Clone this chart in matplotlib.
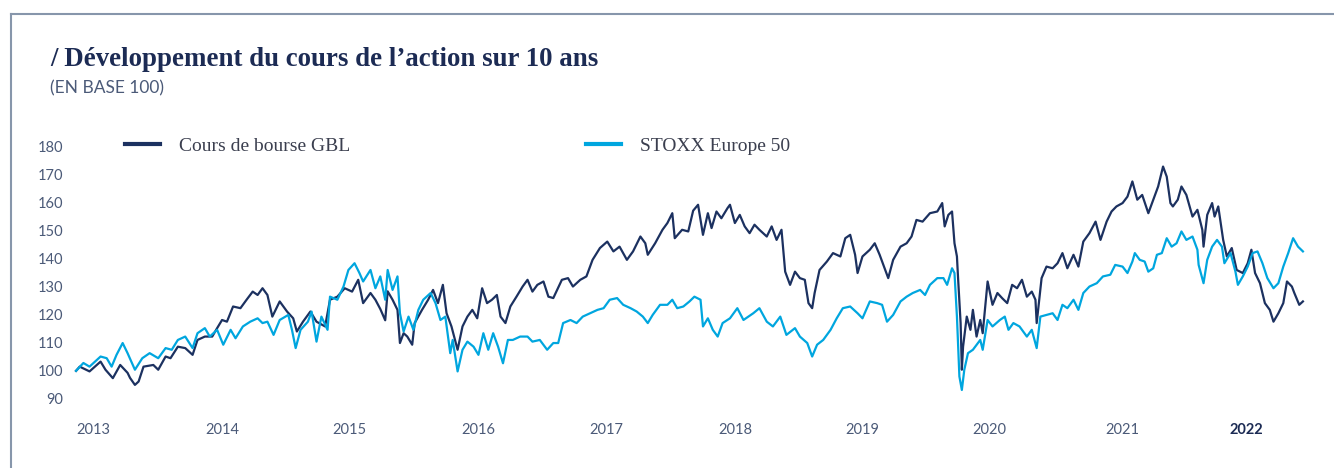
import matplotlib
matplotlib.use("Agg")
import matplotlib.pyplot as plt
from matplotlib.lines import Line2D

# GBL share price, base 100 (decimal years)
gbl_dates = [
    2013.00, 2013.03, 2013.11, 2013.20, 2013.24, 2013.30, 2013.36, 2013.42, 2013.44, 2013.48,
    2013.51, 2013.55, 2013.63, 2013.67, 2013.73, 2013.77, 2013.83, 2013.89, 2013.95, 2013.99,
    2014.05, 2014.11, 2014.15, 2014.19, 2014.23, 2014.28, 2014.34, 2014.39, 2014.44, 2014.48,
    2014.52, 2014.56, 2014.60, 2014.66, 2014.72, 2014.77, 2014.80, 2014.85, 2014.91, 2014.96,
    2015.03, 2015.07, 2015.13, 2015.19, 2015.25, 2015.30, 2015.34, 2015.40, 2015.44, 2015.48,
    2015.52, 2015.54, 2015.58, 2015.62, 2015.64, 2015.67, 2015.70, 2015.74, 2015.76, 2015.82,
    2015.87, 2015.91, 2015.95, 2015.99, 2016.02, 2016.06, 2016.11, 2016.15, 2016.19, 2016.23,
    2016.27, 2016.31, 2016.35, 2016.39, 2016.43, 2016.46, 2016.50, 2016.54, 2016.59, 2016.64,
    2016.68, 2016.72, 2016.76, 2016.81, 2016.85, 2016.89, 2016.96, 2017.01, 2017.05, 2017.11,
    2017.16, 2017.21, 2017.27, 2017.33, 2017.38, 2017.43, 2017.49, 2017.54, 2017.60, 2017.64,
    2017.66, 2017.72, 2017.78, 2017.82, 2017.86, 2017.88, 2017.94, 2017.99, 2018.03, 2018.07,
    2018.11, 2018.15, 2018.18, 2018.22, 2018.26, 2018.31, 2018.33, 2018.37, 2018.41, 2018.45,
    2018.49, 2018.53, 2018.57, 2018.63, 2018.67, 2018.71, 2018.75, 2018.78, 2018.82, 2018.86,
    2018.90, 2018.94, 2018.97, 2019.00, 2019.02, 2019.06, 2019.12, 2019.17, 2019.23, 2019.27,
    2019.31, 2019.35, 2019.37, 2019.41, 2019.47, 2019.51, 2019.55, 2019.59, 2019.62, 2019.66,
    2019.72, 2019.77, 2019.81, 2019.85, 2019.90, 2019.96, 2020.02, 2020.06, 2020.08, 2020.11,
    2020.14, 2020.16, 2020.18, 2020.19, 2020.21, 2020.22, 2020.23, 2020.26, 2020.29, 2020.31,
    2020.34, 2020.37, 2020.39, 2020.43, 2020.47, 2020.51, 2020.55, 2020.59, 2020.63, 2020.67,
    2020.71, 2020.75, 2020.79, 2020.82, 2020.83, 2020.87, 2020.91, 2020.96, 2021.00, 2021.04,
    2021.08, 2021.13, 2021.17, 2021.21, 2021.26, 2021.31, 2021.35, 2021.40, 2021.44, 2021.48,
    2021.53, 2021.57, 2021.61, 2021.65, 2021.69, 2021.74, 2021.78, 2021.82, 2021.86, 2021.89,
    2021.92, 2021.94, 2021.98, 2022.01, 2022.05, 2022.10, 2022.14, 2022.18, 2022.19, 2022.22,
    2022.26, 2022.28, 2022.31, 2022.35, 2022.38, 2022.42, 2022.46, 2022.51, 2022.55, 2022.58,
    2022.61, 2022.65, 2022.69, 2022.73, 2022.76, 2022.80, 2022.84, 2022.87, 2022.91, 2022.93,
    2022.97, 2023.00,
]
gbl = [
    100.0, 101.5, 99.8, 103.3, 100.4, 97.4, 102.1, 99.3, 97.5, 95.0,
    96.2, 101.5, 102.1, 100.4, 105.1, 104.5, 108.6, 108.1, 105.7, 111.0,
    112.2, 112.2, 115.2, 118.1, 117.5, 122.9, 122.3, 125.3, 128.2, 127.0,
    129.4, 127.0, 119.3, 124.7, 121.1, 118.7, 114.0, 117.5, 121.1, 117.5,
    115.8, 125.3, 126.4, 129.4, 128.2, 132.4, 124.1, 127.7, 125.3, 122.0,
    118.0, 128.3, 125.3, 121.7, 109.9, 113.4, 112.2, 109.3, 117.0, 121.7,
    125.3, 128.8, 124.1, 130.6, 120.5, 115.8, 107.5, 115.8, 119.3, 121.7,
    118.7, 129.4, 124.1, 125.3, 127.0, 119.3, 117.0, 122.9, 126.4, 130.0,
    132.4, 128.2, 130.6, 131.8, 126.4, 125.9, 132.4, 133.0, 130.0, 132.4,
    133.6, 139.5, 143.7, 146.0, 142.5, 144.2, 139.5, 142.5, 147.8, 145.4,
    141.3, 145.4, 150.2, 152.6, 156.1, 147.2, 150.2, 149.6, 157.0, 159.1,
    148.4, 156.1, 150.8, 156.7, 154.3, 157.9, 159.1, 152.6, 155.5, 151.4,
    149.0, 152.0, 150.2, 147.8, 151.4, 146.6, 150.2, 135.3, 130.6, 135.3,
    133.0, 132.4, 124.1, 122.3, 127.7, 135.9, 138.9, 141.9, 140.7, 147.2,
    148.4, 141.3, 134.8, 140.7, 143.1, 145.4, 141.3, 136.5, 133.0, 139.5,
    144.2, 145.4, 147.8, 153.7, 153.1, 156.1, 156.7, 159.7, 151.4, 155.5,
    156.7, 145.4, 140.7, 132.4, 117.0, 100.4, 108.6, 119.3, 114.6, 121.7,
    112.2, 118.1, 113.4, 131.8, 123.5, 127.7, 125.8, 124.1, 130.6, 129.4,
    132.4, 126.4, 128.2, 125.3, 117.0, 133.0, 137.1, 136.5, 138.3, 141.9,
    136.5, 141.3, 137.1, 146.0, 149.0, 153.1, 146.6, 153.1, 156.7, 158.5,
    159.7, 162.0, 167.4, 160.9, 162.6, 156.1, 160.9, 165.6, 172.7, 169.1,
    159.7, 158.5, 160.9, 165.6, 162.6, 154.9, 157.3, 150.2, 144.2, 155.5,
    159.7, 154.9, 158.5, 146.6, 140.7, 143.7, 135.9, 134.8, 138.3, 143.1,
    134.8, 131.2, 124.1, 121.7, 117.5, 120.5, 124.1, 131.8, 130.0, 127.7,
    123.5, 124.7,
]

# STOXX Europe 50, base 100
stoxx_dates = [
    2013.00, 2013.06, 2013.11, 2013.20, 2013.25, 2013.29, 2013.33, 2013.38, 2013.42, 2013.48,
    2013.54, 2013.60, 2013.67, 2013.73, 2013.78, 2013.83, 2013.89, 2013.95, 2013.99, 2014.05,
    2014.09, 2014.15, 2014.20, 2014.26, 2014.30, 2014.36, 2014.42, 2014.48, 2014.52, 2014.56,
    2014.61, 2014.66, 2014.73, 2014.76, 2014.79, 2014.83, 2014.89, 2014.92, 2014.96, 2015.00,
    2015.05, 2015.07, 2015.13, 2015.18, 2015.22, 2015.27, 2015.31, 2015.34, 2015.40, 2015.44,
    2015.48, 2015.52, 2015.54, 2015.58, 2015.62, 2015.64, 2015.67, 2015.71, 2015.75, 2015.79,
    2015.83, 2015.89, 2015.93, 2015.97, 2016.01, 2016.05, 2016.07, 2016.11, 2016.15, 2016.19,
    2016.24, 2016.28, 2016.32, 2016.36, 2016.40, 2016.44, 2016.48, 2016.52, 2016.56, 2016.62,
    2016.68, 2016.72, 2016.78, 2016.84, 2016.89, 2016.93, 2016.97, 2017.03, 2017.08, 2017.13,
    2017.19, 2017.25, 2017.30, 2017.35, 2017.41, 2017.46, 2017.52, 2017.57, 2017.62, 2017.66,
    2017.70, 2017.76, 2017.82, 2017.86, 2017.90, 2017.95, 2018.00, 2018.04, 2018.09, 2018.11,
    2018.15, 2018.19, 2018.23, 2018.27, 2018.33, 2018.39, 2018.44, 2018.48, 2018.52, 2018.57,
    2018.63, 2018.68, 2018.74, 2018.79, 2018.86, 2018.90, 2018.96, 2019.00, 2019.04, 2019.09,
    2019.15, 2019.20, 2019.25, 2019.31, 2019.37, 2019.41, 2019.47, 2019.53, 2019.57, 2019.61,
    2019.66, 2019.72, 2019.77, 2019.82, 2019.88, 2019.92, 2019.96, 2020.02, 2020.07, 2020.10,
    2020.14, 2020.16, 2020.18, 2020.20, 2020.22, 2020.24, 2020.27, 2020.31, 2020.37, 2020.39,
    2020.43, 2020.47, 2020.53, 2020.57, 2020.60, 2020.64, 2020.69, 2020.75, 2020.79, 2020.83,
    2020.86, 2020.91, 2020.96, 2021.00, 2021.04, 2021.08, 2021.13, 2021.17, 2021.21, 2021.26,
    2021.32, 2021.37, 2021.43, 2021.47, 2021.53, 2021.57, 2021.61, 2021.63, 2021.67, 2021.71,
    2021.74, 2021.78, 2021.81, 2021.85, 2021.89, 2021.93, 2021.97, 2022.01, 2022.05, 2022.10,
    2022.14, 2022.15, 2022.19, 2022.22, 2022.26, 2022.30, 2022.34, 2022.36, 2022.41, 2022.45,
    2022.47, 2022.51, 2022.55, 2022.59, 2022.63, 2022.67, 2022.71, 2022.76, 2022.80, 2022.84,
    2022.88, 2022.92, 2022.96, 2023.00,
]
stoxx = [
    100.0, 102.8, 101.5, 105.1, 104.5, 101.5, 105.7, 109.9, 106.3, 100.4,
    104.5, 106.3, 104.5, 108.1, 107.5, 111.0, 112.2, 108.1, 113.4, 115.2,
    112.2, 114.6, 109.3, 114.6, 111.6, 115.8, 117.5, 118.7, 117.0, 117.5,
    112.8, 118.1, 119.9, 114.6, 108.1, 114.6, 117.5, 121.1, 110.4, 119.3,
    114.6, 126.4, 125.3, 130.0, 135.9, 138.3, 134.8, 131.8, 135.9, 129.4,
    133.6, 125.3, 135.9, 128.8, 133.6, 120.5, 114.0, 119.3, 114.6, 121.7,
    125.3, 127.7, 124.1, 118.1, 119.3, 106.3, 111.0, 99.8, 107.5, 110.4,
    108.6, 105.7, 113.4, 107.5, 113.4, 108.6, 102.7, 111.0, 111.0, 112.2,
    112.2, 110.4, 111.0, 107.5, 109.9, 109.9, 117.0, 118.1, 117.0, 119.3,
    120.5, 121.7, 122.3, 125.3, 125.9, 123.5, 122.3, 121.1, 119.3, 117.0,
    119.9, 123.5, 123.5, 125.3, 122.3, 122.9, 124.7, 126.4, 125.3, 115.8,
    118.7, 114.6, 112.2, 117.0, 118.7, 122.3, 118.1, 119.3, 120.5, 122.3,
    117.5, 115.8, 119.3, 112.8, 115.2, 112.2, 109.9, 105.1, 109.3, 111.0,
    114.6, 118.7, 122.3, 122.9, 120.5, 118.7, 124.7, 124.1, 123.5, 117.5,
    119.9, 124.7, 126.4, 127.7, 128.8, 127.0, 130.6, 133.0, 133.0, 130.6,
    136.5, 134.8, 119.3, 98.0, 93.2, 100.4, 106.3, 107.5, 111.0, 107.5,
    118.1, 115.8, 118.1, 119.3, 114.6, 117.0, 115.8, 112.2, 114.6, 108.1,
    119.3, 119.9, 120.5, 118.1, 123.5, 122.3, 125.3, 121.7, 127.7, 130.0,
    131.2, 133.6, 134.2, 137.7, 137.1, 134.8, 138.9, 141.9, 139.5, 138.9,
    135.3, 136.5, 141.3, 141.9, 147.2, 144.2, 145.4, 149.6, 146.6, 147.8,
    143.1, 137.7, 131.2, 139.5, 144.2, 146.6, 144.2, 138.3, 141.9, 135.3,
    130.6, 133.6, 137.1, 141.9, 142.5, 138.3, 133.0, 129.4, 131.2, 137.1,
    141.9, 147.2, 144.2, 142.5,
]

year_labels = ['2013', '2014', '2015', '2016', '2017', '2018', '2019', '2020', '2021', '2022']
year_label_pos = [2013.14, 2014.19, 2015.23, 2016.28, 2017.32, 2018.37, 2019.41, 2020.44, 2021.53, 2022.54]
y_ticks = [90, 100, 110, 120, 130, 140, 150, 160, 170, 180]

NAVY = '#1c3160'
CYAN = '#00a6df'
TICK = '#4b5a78'

fig = plt.figure(figsize=(13.34, 4.68), dpi=100)
ax = fig.add_axes([0.0524, 0.1235, 0.9289, 0.5885])

ax.plot(gbl_dates, gbl, color=NAVY, lw=1.6, label='Cours de bourse GBL', solid_joinstyle='round')
ax.plot(stoxx_dates, stoxx, color=CYAN, lw=1.6, label='STOXX Europe 50', solid_joinstyle='round')

ax.set_xlim(2012.95, 2023.05)
ax.set_ylim(86, 184)
ax.set_yticks(y_ticks)
ax.set_yticklabels([str(v) for v in y_ticks])
ax.set_xticks(year_label_pos)
ax.set_xticklabels(year_labels)
for s in ax.spines.values():
    s.set_visible(False)
ax.tick_params(axis='both', length=0, labelcolor=TICK, labelsize=10.5)
ax.tick_params(axis='y', pad=5)
ax.tick_params(axis='x', pad=9)
for lab in ax.get_xticklabels() + ax.get_yticklabels():
    lab.set_fontfamily('Lato')
last = ax.get_xticklabels()[-1]
last.set_fontweight('bold')
last.set_color('#1c2b54')

leg = ax.legend(loc='center left', bbox_to_anchor=(0.0445, 0.959), ncol=2, frameon=False,
                handlelength=1.8, handletextpad=0.98, columnspacing=12.1,
                borderpad=0, borderaxespad=0,
                prop={'family': 'Liberation Serif', 'size': 14})
for t in leg.get_texts():
    t.set_color('#3b3f4f')
for h in leg.legend_handles:
    h.set_linewidth(3)

# title block
fig.text(50 / 1334, 1 - 66 / 468, '/ Développement du cours de l\u2019action sur 10 ans',
         fontfamily='Liberation Serif', fontweight='bold', fontsize=19.4, color='#1c2b54',
         ha='left', va='baseline')
fig.text(50 / 1334, 1 - 93 / 468, '(EN BASE 100)', fontfamily='Lato', fontsize=12.5,
         color=TICK, ha='left', va='baseline')

# frame lines top and left
frame = '#8796ab'
fig.add_artist(Line2D([11 / 1334, 1.0], [1 - 14 / 468, 1 - 14 / 468], color=frame, lw=1.5))
fig.add_artist(Line2D([11 / 1334, 11 / 1334], [0, 1 - 14 / 468], color=frame, lw=1.5))

fig.savefig('out.png', dpi=100)
